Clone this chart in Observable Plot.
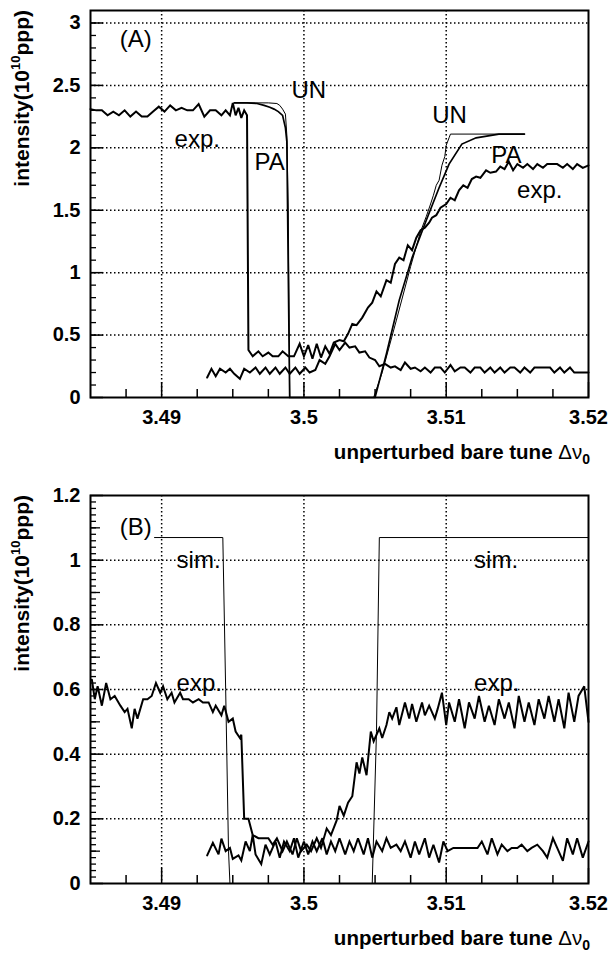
<!DOCTYPE html>
<html><head><meta charset="utf-8">
<script src="https://cdn.jsdelivr.net/npm/d3@7"></script>
<script src="https://cdn.jsdelivr.net/npm/@observablehq/plot@0.6"></script>
<style>
body{margin:0;background:#fff;}
#chart svg{display:block;}
</style></head><body><div id="chart"></div>
<script>
// ---------- data ----------
const xDomain = [3.485, 3.52];
const xTicks = [3.49, 3.5, 3.51, 3.52];
const xTickLabels = ["3.49", "3.5", "3.51", "3.52"];

const yDomainA = [0, 3.1];
const yTicksA = [0, 0.5, 1, 1.5, 2, 2.5, 3];
const yTickLabelsA = ["0", "0.5", "1", "1.5", "2", "2.5", "3"];

const yDomainB = [0, 1.2];
const yTicksB = [0, 0.2, 0.4, 0.6, 0.8, 1, 1.2];
const yTickLabelsB = ["0", "0.2", "0.4", "0.6", "0.8", "1", "1.2"];

// Panel A: experiment (falling then rising)
const expA1 = [[3.4850,2.31],[3.4854,2.30],[3.4858,2.30],[3.4862,2.26],[3.4866,2.29],[3.4870,2.26],[3.4874,2.30],[3.4878,2.25],[3.4882,2.29],[3.4886,2.25],[3.4890,2.25],[3.4894,2.29],[3.4898,2.33],[3.4902,2.29],[3.4906,2.34],[3.4910,2.30],[3.4914,2.32],[3.4918,2.30],[3.4922,2.30],[3.4926,2.35],[3.4930,2.25],[3.4934,2.30],[3.4938,2.30],[3.4942,2.26],[3.4945,2.30],[3.4948,2.26],[3.4950,2.36],[3.4952,2.26],[3.4954,2.32],[3.4956,2.24],[3.4958,2.30],[3.4960,2.26],[3.4961,0.38],[3.4964,0.33],[3.4968,0.37],[3.4971,0.33],[3.4975,0.36],[3.4978,0.33],[3.4982,0.33],[3.4985,0.37],[3.4989,0.33],[3.4993,0.33],[3.4997,0.43],[3.5000,0.33],[3.5003,0.42],[3.5006,0.31],[3.5009,0.43],[3.5012,0.32],[3.5015,0.41],[3.5018,0.35],[3.5021,0.44],[3.5025,0.46],[3.5028,0.45],[3.5031,0.51],[3.5034,0.59],[3.5037,0.58],[3.5041,0.64],[3.5045,0.72],[3.5048,0.76],[3.5051,0.85],[3.5054,0.81],[3.5058,0.94],[3.5061,0.92],[3.5064,1.07],[3.5067,1.12],[3.5070,1.10],[3.5073,1.22],[3.5076,1.18],[3.5079,1.28],[3.5082,1.34],[3.5085,1.36],[3.5088,1.40],[3.5090,1.44],[3.5093,1.46],[3.5096,1.52],[3.5100,1.55],[3.5103,1.60],[3.5106,1.58],[3.5109,1.66],[3.5112,1.70],[3.5115,1.68],[3.5118,1.75],[3.5121,1.77],[3.5124,1.76],[3.5128,1.82],[3.5131,1.80],[3.5135,1.81],[3.5138,1.85],[3.5141,1.83],[3.5144,1.89],[3.5147,1.82],[3.5150,1.87],[3.5154,1.84],[3.5157,1.87],[3.5161,1.83],[3.5164,1.87],[3.5168,1.84],[3.5171,1.87],[3.5175,1.87],[3.5178,1.87],[3.5182,1.84],[3.5185,1.87],[3.5189,1.83],[3.5192,1.87],[3.5196,1.84],[3.5200,1.86]];
// Panel A: experiment (low branch)
const expA2 = [[3.4932,0.16],[3.4935,0.23],[3.4938,0.17],[3.4941,0.23],[3.4945,0.20],[3.4948,0.23],[3.4951,0.19],[3.4955,0.15],[3.4958,0.23],[3.4962,0.20],[3.4966,0.24],[3.4969,0.19],[3.4973,0.24],[3.4976,0.19],[3.4980,0.24],[3.4983,0.19],[3.4987,0.24],[3.4990,0.19],[3.4994,0.24],[3.4997,0.19],[3.5001,0.24],[3.5004,0.20],[3.5008,0.22],[3.5011,0.30],[3.5015,0.27],[3.5018,0.33],[3.5022,0.43],[3.5025,0.38],[3.5029,0.44],[3.5032,0.40],[3.5036,0.41],[3.5039,0.36],[3.5043,0.37],[3.5046,0.32],[3.5050,0.30],[3.5053,0.25],[3.5057,0.27],[3.5061,0.24],[3.5064,0.25],[3.5068,0.22],[3.5071,0.28],[3.5075,0.23],[3.5078,0.24],[3.5082,0.21],[3.5085,0.24],[3.5089,0.20],[3.5092,0.24],[3.5096,0.24],[3.5099,0.20],[3.5103,0.26],[3.5106,0.21],[3.5110,0.24],[3.5113,0.24],[3.5117,0.20],[3.5120,0.24],[3.5124,0.24],[3.5127,0.20],[3.5131,0.24],[3.5134,0.20],[3.5138,0.24],[3.5141,0.20],[3.5145,0.24],[3.5148,0.24],[3.5152,0.20],[3.5155,0.24],[3.5159,0.20],[3.5162,0.24],[3.5166,0.24],[3.5169,0.24],[3.5173,0.24],[3.5176,0.20],[3.5180,0.24],[3.5183,0.20],[3.5187,0.24],[3.5190,0.20],[3.5194,0.20],[3.5197,0.20],[3.5200,0.20]];
// Panel A: simulation UN and PA
const unA = [[3.4951,2.36],[3.4975,2.36],[3.4981,2.355],[3.4983,2.34],[3.4985,2.31],[3.4987,2.27],[3.4988,2.1],[3.4989,1.5],[3.4990,0],[3.5049,0],[3.5055,0.2],[3.5065,0.62],[3.5075,1.05],[3.5082,1.33],[3.5086,1.45],[3.5089,1.55],[3.5091,1.62],[3.5093,1.70],[3.5095,1.74],[3.5097,1.86],[3.5099,1.93],[3.5100,2.02],[3.5102,2.08],[3.5103,2.11],[3.5155,2.11]];
const paA = [[3.4951,2.36],[3.4960,2.36],[3.4967,2.355],[3.4972,2.34],[3.4976,2.325],[3.4979,2.31],[3.4982,2.29],[3.4985,2.26],[3.4987,2.16],[3.4988,2.05],[3.4989,1.0],[3.4990,0],[3.5050,0],[3.5058,0.35],[3.5067,0.78],[3.5076,1.12],[3.5086,1.42],[3.5095,1.68],[3.5102,1.87],[3.5111,2.03],[3.5121,2.08],[3.5137,2.11],[3.5155,2.11]];

// Panel B: experiment (falling then rising)
const expB1 = [[3.4851,0.63],[3.4853,0.57],[3.4855,0.61],[3.4858,0.55],[3.4861,0.62],[3.4864,0.57],[3.4867,0.58],[3.4871,0.55],[3.4874,0.53],[3.4876,0.54],[3.4879,0.48],[3.4881,0.54],[3.4883,0.51],[3.4887,0.57],[3.4890,0.57],[3.4893,0.58],[3.4896,0.62],[3.4899,0.59],[3.4901,0.61],[3.4904,0.57],[3.4907,0.59],[3.4909,0.56],[3.4913,0.59],[3.4915,0.57],[3.4919,0.57],[3.4922,0.56],[3.4926,0.57],[3.4929,0.56],[3.4933,0.56],[3.4936,0.53],[3.4938,0.55],[3.4942,0.52],[3.4944,0.55],[3.4947,0.50],[3.4950,0.51],[3.4952,0.47],[3.4955,0.45],[3.4956,0.46],[3.4958,0.20],[3.4961,0.20],[3.4964,0.15],[3.4968,0.14],[3.4971,0.14],[3.4975,0.14],[3.4978,0.12],[3.4981,0.14],[3.4985,0.10],[3.4988,0.13],[3.4992,0.09],[3.4995,0.14],[3.4998,0.10],[3.5002,0.12],[3.5005,0.10],[3.5009,0.14],[3.5012,0.11],[3.5016,0.17],[3.5019,0.15],[3.5023,0.195],[3.5025,0.24],[3.5028,0.21],[3.5031,0.25],[3.5034,0.27],[3.5037,0.375],[3.5039,0.34],[3.5041,0.39],[3.5044,0.335],[3.5047,0.47],[3.5049,0.44],[3.5053,0.48],[3.5055,0.45],[3.5058,0.49],[3.5060,0.53],[3.5062,0.51],[3.5065,0.545],[3.5067,0.49],[3.5071,0.56],[3.5074,0.51],[3.5076,0.555],[3.5079,0.50],[3.5083,0.56],[3.5085,0.52],[3.5088,0.55],[3.5092,0.51],[3.5094,0.54],[3.5097,0.59],[3.5100,0.49],[3.5102,0.56],[3.5106,0.50],[3.5109,0.57],[3.5113,0.48],[3.5116,0.56],[3.5120,0.51],[3.5123,0.58],[3.5127,0.50],[3.5130,0.55],[3.5134,0.49],[3.5137,0.57],[3.5141,0.51],[3.5144,0.56],[3.5148,0.48],[3.5151,0.58],[3.5155,0.50],[3.5158,0.56],[3.5162,0.49],[3.5165,0.57],[3.5169,0.51],[3.5172,0.58],[3.5176,0.50],[3.5179,0.57],[3.5183,0.48],[3.5186,0.59],[3.5190,0.50],[3.5193,0.58],[3.5197,0.61],[3.5200,0.50]];
// Panel B: experiment (low branch)
const expB2 = [[3.4932,0.087],[3.4936,0.126],[3.4940,0.09],[3.4942,0.139],[3.4945,0.10],[3.4948,0.11],[3.4950,0.076],[3.4954,0.087],[3.4956,0.071],[3.4959,0.13],[3.4962,0.10],[3.4964,0.15],[3.4966,0.09],[3.4970,0.06],[3.4973,0.12],[3.4976,0.09],[3.4980,0.13],[3.4983,0.08],[3.4986,0.13],[3.4990,0.10],[3.4993,0.14],[3.4996,0.08],[3.5000,0.13],[3.5003,0.09],[3.5006,0.13],[3.5009,0.10],[3.5013,0.14],[3.5016,0.09],[3.5019,0.13],[3.5022,0.10],[3.5025,0.14],[3.5029,0.09],[3.5032,0.13],[3.5035,0.10],[3.5038,0.14],[3.5042,0.09],[3.5045,0.14],[3.5048,0.08],[3.5051,0.13],[3.5055,0.10],[3.5058,0.14],[3.5061,0.11],[3.5065,0.12],[3.5068,0.10],[3.5071,0.13],[3.5075,0.08],[3.5078,0.13],[3.5081,0.09],[3.5085,0.14],[3.5088,0.08],[3.5091,0.12],[3.5095,0.065],[3.5098,0.13],[3.5101,0.10],[3.5105,0.11],[3.5110,0.11],[3.5116,0.11],[3.5122,0.11],[3.5125,0.13],[3.5129,0.09],[3.5132,0.14],[3.5136,0.09],[3.5139,0.12],[3.5143,0.10],[3.5146,0.11],[3.5150,0.11],[3.5153,0.12],[3.5157,0.10],[3.5160,0.11],[3.5164,0.12],[3.5168,0.10],[3.5171,0.08],[3.5175,0.14],[3.5178,0.11],[3.5182,0.07],[3.5185,0.14],[3.5189,0.09],[3.5192,0.14],[3.5196,0.08],[3.5200,0.13]];
// Panel B: simulation
const simB = [[3.4895,1.07],[3.4943,1.07],[3.4945,0.6],[3.4947,0.1],[3.4948,0],[3.5048,0],[3.5051,0.47],[3.5053,1.07],[3.5200,1.07]];

// annotations (data coordinates)
const labelsA = [
  {text: "(A)", x: 3.48705, y: 2.81},
  {text: "UN", x: 3.49912, y: 2.40},
  {text: "exp.", x: 3.49091, y: 2.01},
  {text: "PA", x: 3.49653, y: 1.82},
  {text: "UN", x: 3.50902, y: 2.20},
  {text: "PA", x: 3.51316, y: 1.875},
  {text: "exp.", x: 3.51498, y: 1.60}
];
const labelsB = [
  {text: "(B)", x: 3.48705, y: 1.079},
  {text: "sim.", x: 3.49105, y: 0.977},
  {text: "exp.", x: 3.49105, y: 0.595},
  {text: "sim.", x: 3.51196, y: 0.977},
  {text: "exp.", x: 3.51196, y: 0.595}
];

// ---------- drawing ----------
const W = 611, ML = 90, MR = 23;
const FONT = "'Liberation Sans', Arial, Helvetica, sans-serif";
const xMinor = [3.4875, 3.4925, 3.495, 3.4975, 3.5025, 3.505, 3.5075, 3.5125, 3.515, 3.5175];

function panel({height, marginTop, marginBottom, yDomain, yTicks, yTickLabels, yMid, yMinor, lines, labels}) {
  const innerW = W - ML - MR, innerH = height - marginTop - marginBottom;
  const gridX = xTicks.filter(v => v > xDomain[0] + 1e-9 && v < xDomain[1] - 1e-9);
  const gridY = yTicks.filter(v => v > yDomain[0] + 1e-9 && v < yDomain[1] - 1e-9);
  const xy = {x: d => d[0], y: d => d[1]};
  const chart = Plot.plot({
    width: W, height, marginLeft: ML, marginRight: MR, marginTop, marginBottom,
    x: {domain: xDomain, axis: null},
    y: {domain: yDomain, axis: null},
    style: {fontFamily: FONT, background: "white", color: "black", overflow: "visible"},
    marks: [
      Plot.ruleX(gridX, {x: d => d, stroke: "black", strokeWidth: 1.5, strokeDasharray: "1.5,2.5"}),
      Plot.ruleY(gridY, {y: d => d, stroke: "black", strokeWidth: 1.5, strokeDasharray: "1.5,2.5"}),
      ...lines.map(l => Plot.line(l.data, {...xy, stroke: "black", strokeWidth: l.w, strokeLinejoin: "miter", strokeMiterlimit: 3})),
      Plot.ruleX(xMinor, {x: d => d, insetTop: innerH - 8, stroke: "black", strokeWidth: 1.5}),
      Plot.ruleX(xTicks, {x: d => d, insetTop: innerH - 15, stroke: "black", strokeWidth: 1.5}),
      Plot.ruleY(yMinor, {y: d => d, insetRight: innerW - 6, stroke: "black", strokeWidth: 1.3}),
      ...(yMid ? [Plot.ruleY(yMid, {y: d => d, insetRight: innerW - 10, stroke: "black", strokeWidth: 1.3})] : []),
      Plot.ruleY(yTicks, {y: d => d, insetRight: innerW - 13, stroke: "black", strokeWidth: 1.5}),
      Plot.frame({stroke: "black", strokeWidth: 2}),
      Plot.text(xTicks, {x: d => d, text: (d, i) => xTickLabels[i], frameAnchor: "bottom", dy: 26, lineAnchor: "bottom", fontSize: 20, fontWeight: "bold", fill: "black"}),
      Plot.text(yTicks, {y: d => d, text: (d, i) => yTickLabels[i], frameAnchor: "left", dx: -10, textAnchor: "end", lineAnchor: "middle", fontSize: 20, fontWeight: "bold", fill: "black"}),
      Plot.text(labels, {x: "x", y: "y", text: "text", textAnchor: "start", lineAnchor: "bottom", fontSize: 24, fill: "black"})
    ]
  });
  const svg = d3.select(chart);
  const yt = svg.append("text")
    .attr("transform", `translate(29,${marginTop}) rotate(-90)`)
    .attr("text-anchor", "end").attr("font-size", 21).attr("font-weight", "bold")
    .attr("font-family", FONT).attr("fill", "black");
  yt.append("tspan").text("intensity(10");
  yt.append("tspan").attr("font-size", 13).attr("dy", -9).text("10");
  yt.append("tspan").attr("dy", 9).text("ppp)");
  const xt = svg.append("text")
    .attr("x", 590).attr("y", height - marginBottom + 62)
    .attr("text-anchor", "end").attr("font-size", 20.5).attr("font-weight", "bold")
    .attr("font-family", FONT).attr("fill", "black");
  xt.append("tspan").text("unperturbed bare tune ");
  xt.append("tspan").attr("font-weight", "normal").text("\u0394\u03bd");
  xt.append("tspan").attr("font-size", 14).attr("dy", 5).text("0");
  return chart;
}

const root = document.getElementById("chart");
root.appendChild(panel({
  height: 477, marginTop: 10, marginBottom: 80,
  yDomain: yDomainA, yTicks: yTicksA, yTickLabels: yTickLabelsA,
  yMinor: d3.range(1, 31).map(i => i / 10), yMid: null,
  lines: [{data: expA1, w: 2}, {data: expA2, w: 2}, {data: paA, w: 1.7}, {data: unA, w: 1}],
  labels: labelsA
}));
root.appendChild(panel({
  height: 477, marginTop: 18, marginBottom: 71,
  yDomain: yDomainB, yTicks: yTicksB, yTickLabels: yTickLabelsB,
  yMinor: d3.range(1, 60).map(i => i / 50), yMid: d3.range(0, 6).map(i => i / 5 + 0.1),
  lines: [{data: expB1, w: 2}, {data: expB2, w: 2}, {data: simB, w: 1}],
  labels: labelsB
}));
</script></body></html>
